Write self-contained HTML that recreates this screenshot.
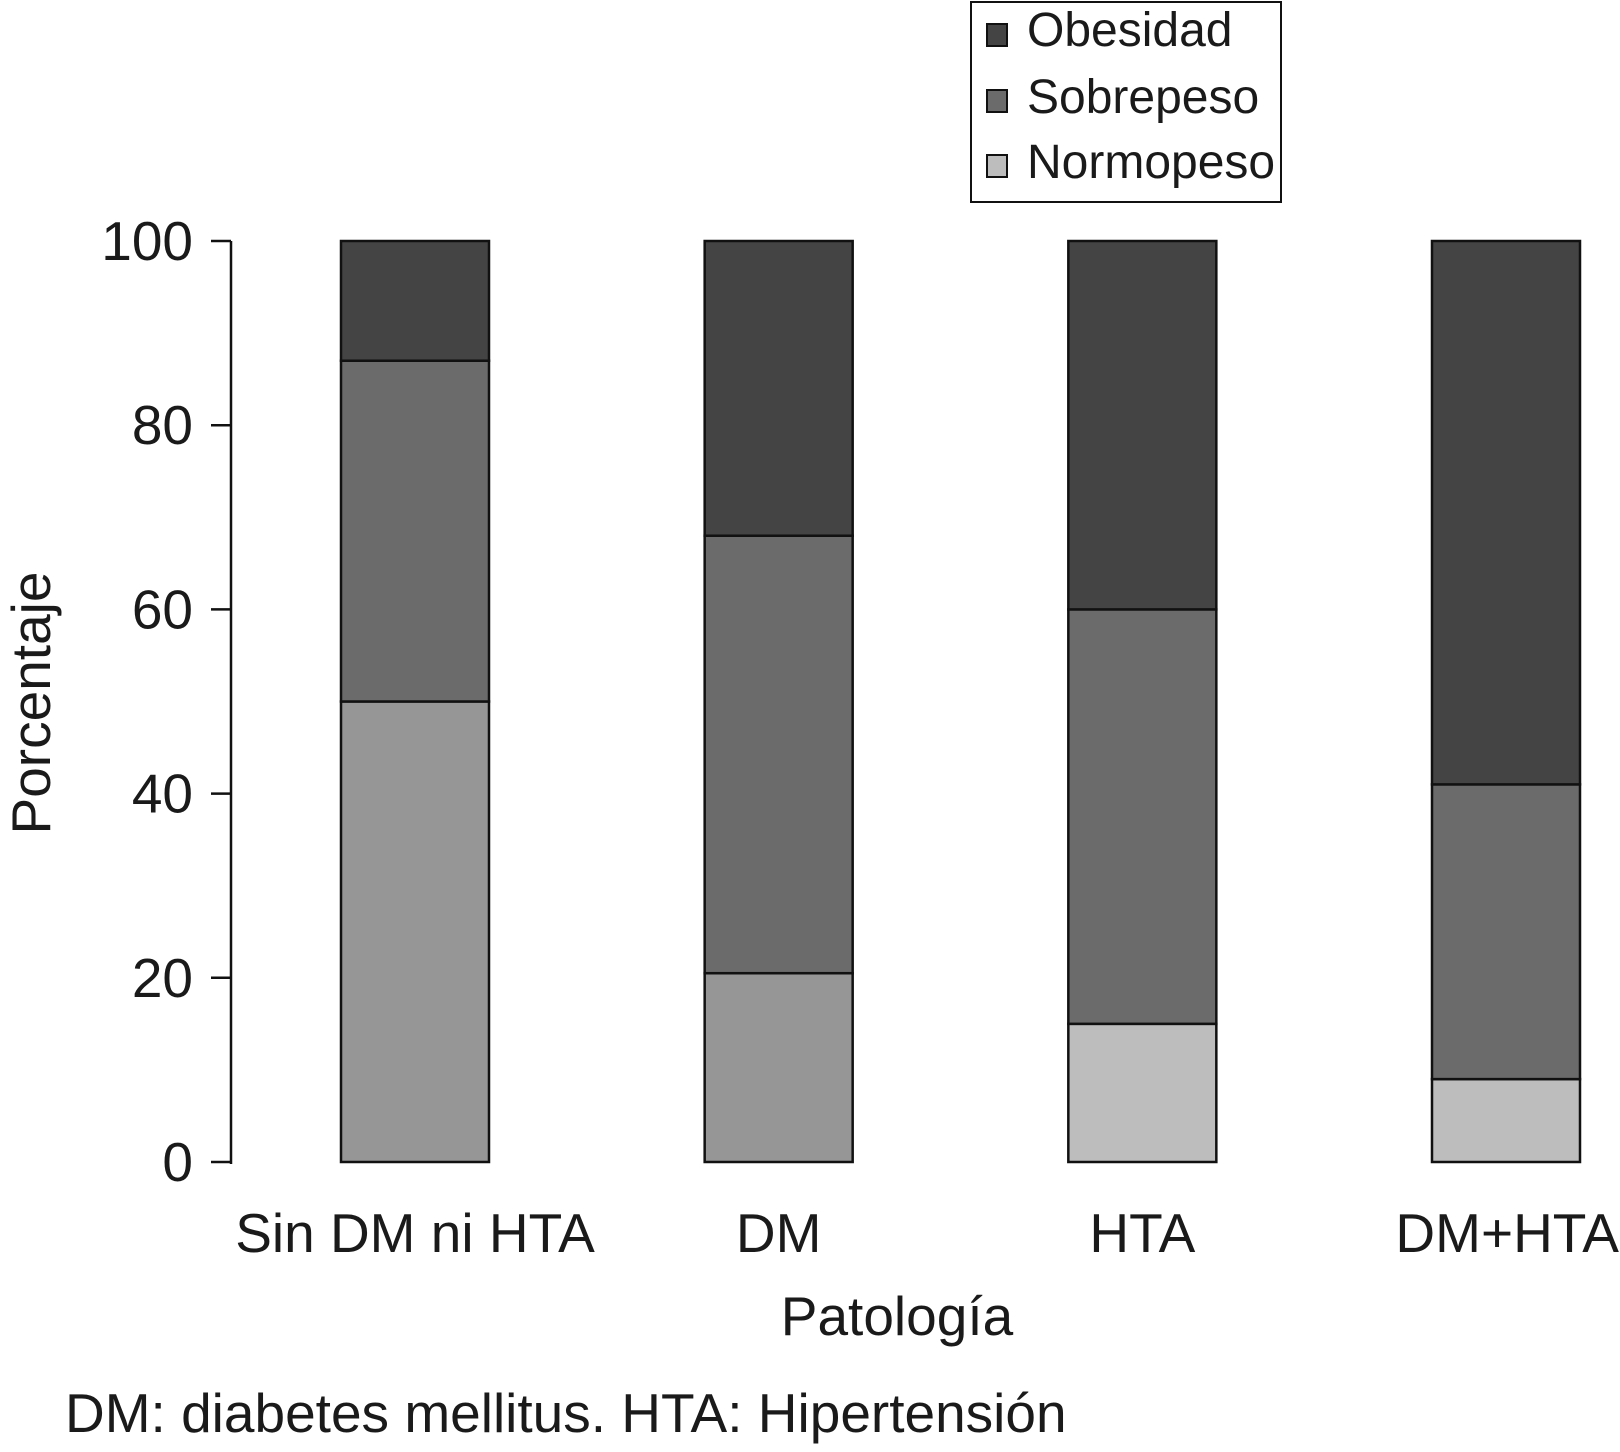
<!DOCTYPE html>
<html><head><meta charset="utf-8"><style>
html,body{margin:0;padding:0;background:#fff}
svg text{font-family:"Liberation Sans",sans-serif;fill:#1a1a1a}
</style></head><body>
<svg id="chart" width="1620" height="1447" viewBox="0 0 1620 1447" xmlns="http://www.w3.org/2000/svg">
<g id="axis"></g>
<g id="bars"></g>
<g id="xlabels"></g>
<text transform="translate(50,703) rotate(-90)" text-anchor="middle" font-size="55">Porcentaje</text>
<text x="897" y="1335" text-anchor="middle" font-size="55">Patología</text>
<text x="65" y="1432" font-size="55">DM: diabetes mellitus. HTA: Hipertensión</text>
<g>
<rect x="971" y="2" width="310" height="200" fill="#fff" stroke="#111" stroke-width="2"/>
<rect x="987" y="24" width="20" height="22" fill="#444" stroke="#111" stroke-width="2"/>
<text x="1027" y="46" font-size="48">Obesidad</text>
<rect x="987" y="90" width="20" height="22" fill="#6b6b6b" stroke="#111" stroke-width="2"/>
<text x="1027" y="113" font-size="48">Sobrepeso</text>
<rect x="987" y="155" width="20" height="22" fill="#bdbdbd" stroke="#111" stroke-width="2"/>
<text x="1027" y="178" font-size="48">Normopeso</text>
</g>
</svg>
<script>
const categories=["Sin DM ni HTA","DM","HTA","DM+HTA"];
const normopeso=[50,20.5,15,9];
const sobrepeso=[37,47.5,45,32];
const obesidad=[13,32,40,59];
const ticks=[0,20,40,60,80,100];
const normoColors=["#969696","#969696","#bdbdbd","#bdbdbd"];
const NS="http://www.w3.org/2000/svg";
const y0=1162,y100=241;
function y(v){return y0-(v/100)*(y0-y100);}
const centers=[415,778,1142,1506];
function xc(i){return centers[0]+i*(centers[3]-centers[0])/(categories.length-1);}
const bw=148;
function mk(tag,attrs,parent){const e=document.createElementNS(NS,tag);for(const k in attrs)e.setAttribute(k,attrs[k]);parent.appendChild(e);return e;}
const ax=document.getElementById('axis');
const line=mk('line',{x1:231,x2:231,y1:y(100),y2:y(0)+2,stroke:'#111','stroke-width':2.5},ax);


ticks.forEach(t=>{
 const l=mk('line',{x1:211,x2:231,y1:y(t),y2:y(t),stroke:'#111','stroke-width':2.5},ax);
 
 
 const tx=mk('text',{x:193,y:y(t)+19,'text-anchor':'end','font-size':55},ax);
 tx.textContent=t;
 
 
});
const bg=document.getElementById('bars');
const xl=document.getElementById('xlabels');
categories.forEach((c,i)=>{
 const segs=[[normopeso[i],normoColors[i],'normopeso'],[sobrepeso[i],'#6b6b6b','sobrepeso'],[obesidad[i],'#444','obesidad']];
 let base=0;
 segs.forEach(s=>{
  const r=mk('rect',{x:xc(i)-bw/2,y:y(base+s[0]),width:bw,height:y(base)-y(base+s[0]),fill:s[1],stroke:'#111','stroke-width':2.5},bg);
  
  
  base+=s[0];
 });
 const last=i===categories.length-1;
 const t=mk('text',{x:last?1619:xc(i),y:1252,'text-anchor':last?'end':'middle','font-size':55},xl);
 t.textContent=c;
 
 
});
</script>
</body></html>
